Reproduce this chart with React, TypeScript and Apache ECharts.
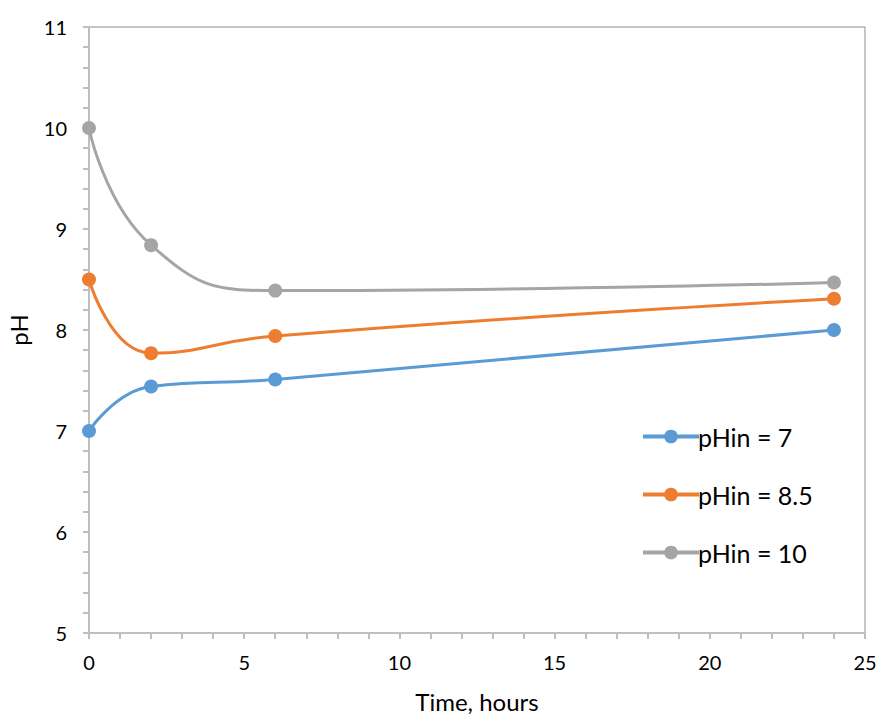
import React, { useEffect, useRef } from "react";
import * as echarts from "echarts";

// Sampling times (hours) and measured pH for each inlet pH
const hours = [0, 2, 6, 24];
const ph7 = [7.0, 7.44, 7.51, 8.0];
const ph85 = [8.5, 7.77, 7.94, 8.31];
const ph10 = [10.0, 8.84, 8.39, 8.47];
const seriesNames = ["pHin = 7", "pHin = 8.5", "pHin = 10"];
const colors = ["#5B9BD5", "#ED7D31", "#A5A5A5"];

const FONT = "Lato, 'Open Sans', sans-serif";

export default function App() {
  const ref = useRef<HTMLDivElement>(null);

  useEffect(() => {
    if (!ref.current) return;
    const chart = echarts.init(ref.current, undefined, { renderer: "svg" });
    const mk = (name: string, vals: number[], color: string) => ({
      name,
      type: "line",
      smooth: 0.5,
      data: hours.map((h, i) => [h, vals[i]]),
      symbol: "circle",
      symbolSize: 14,
      lineStyle: { color, width: 3 },
      itemStyle: { color },
      z: 3,
    });
    chart.setOption({
      animation: false,
      backgroundColor: "#ffffff",
      textStyle: { fontFamily: FONT },
      grid: {
        left: 89,
        right: 14,
        top: 27,
        bottom: 83,
        outerBoundsMode: "none",
        containLabel: false,
        show: true,
        borderColor: "#8c8c8c",
        borderWidth: 1,
      },
      legend: {
        orient: "vertical",
        left: 636,
        top: 419,
        itemWidth: 56,
        itemHeight: 17,
        itemGap: 33,
        data: seriesNames,
        lineStyle: { width: 4 },
        textStyle: { fontSize: 25, color: "#000", fontFamily: FONT, padding: [0, 0, 0, -6] },
      },
      xAxis: {
        type: "value",
        min: 0,
        max: 25,
        interval: 5,
        name: "Time, hours",
        nameLocation: "middle",
        nameGap: 56,
        nameTextStyle: { fontSize: 24, color: "#000", fontFamily: FONT },
        axisLine: { show: true, lineStyle: { color: "#bfbfbf", width: 2 } },
        axisTick: { show: true, length: 6, lineStyle: { color: "#bfbfbf", width: 2 } },
        minorTick: { show: true, splitNumber: 5, length: 6, lineStyle: { color: "#bfbfbf", width: 2 } },
        splitLine: { show: false },
        axisLabel: { fontSize: 20, color: "#000", margin: 19, fontFamily: FONT },
      },
      yAxis: {
        type: "value",
        min: 5,
        max: 11,
        interval: 1,
        name: "pH",
        nameLocation: "middle",
        nameGap: 59,
        nameTextStyle: { fontSize: 24, color: "#000", fontFamily: FONT },
        axisLine: { show: true, lineStyle: { color: "#bfbfbf", width: 2 } },
        axisTick: { show: true, length: 6, lineStyle: { color: "#bfbfbf", width: 2 } },
        minorTick: { show: true, splitNumber: 5, length: 6, lineStyle: { color: "#bfbfbf", width: 2 } },
        splitLine: { show: false },
        axisLabel: { fontSize: 20, color: "#000", margin: 22, fontFamily: FONT },
      },
      series: [
        mk(seriesNames[0], ph7, colors[0]),
        mk(seriesNames[1], ph85, colors[1]),
        mk(seriesNames[2], ph10, colors[2]),
      ],
    });
    return () => chart.dispose();
  }, []);

  return (
    <div
      ref={ref}
      style={{ position: "fixed", left: 0, top: 0, width: 879, height: 716 }}
    />
  );
}
